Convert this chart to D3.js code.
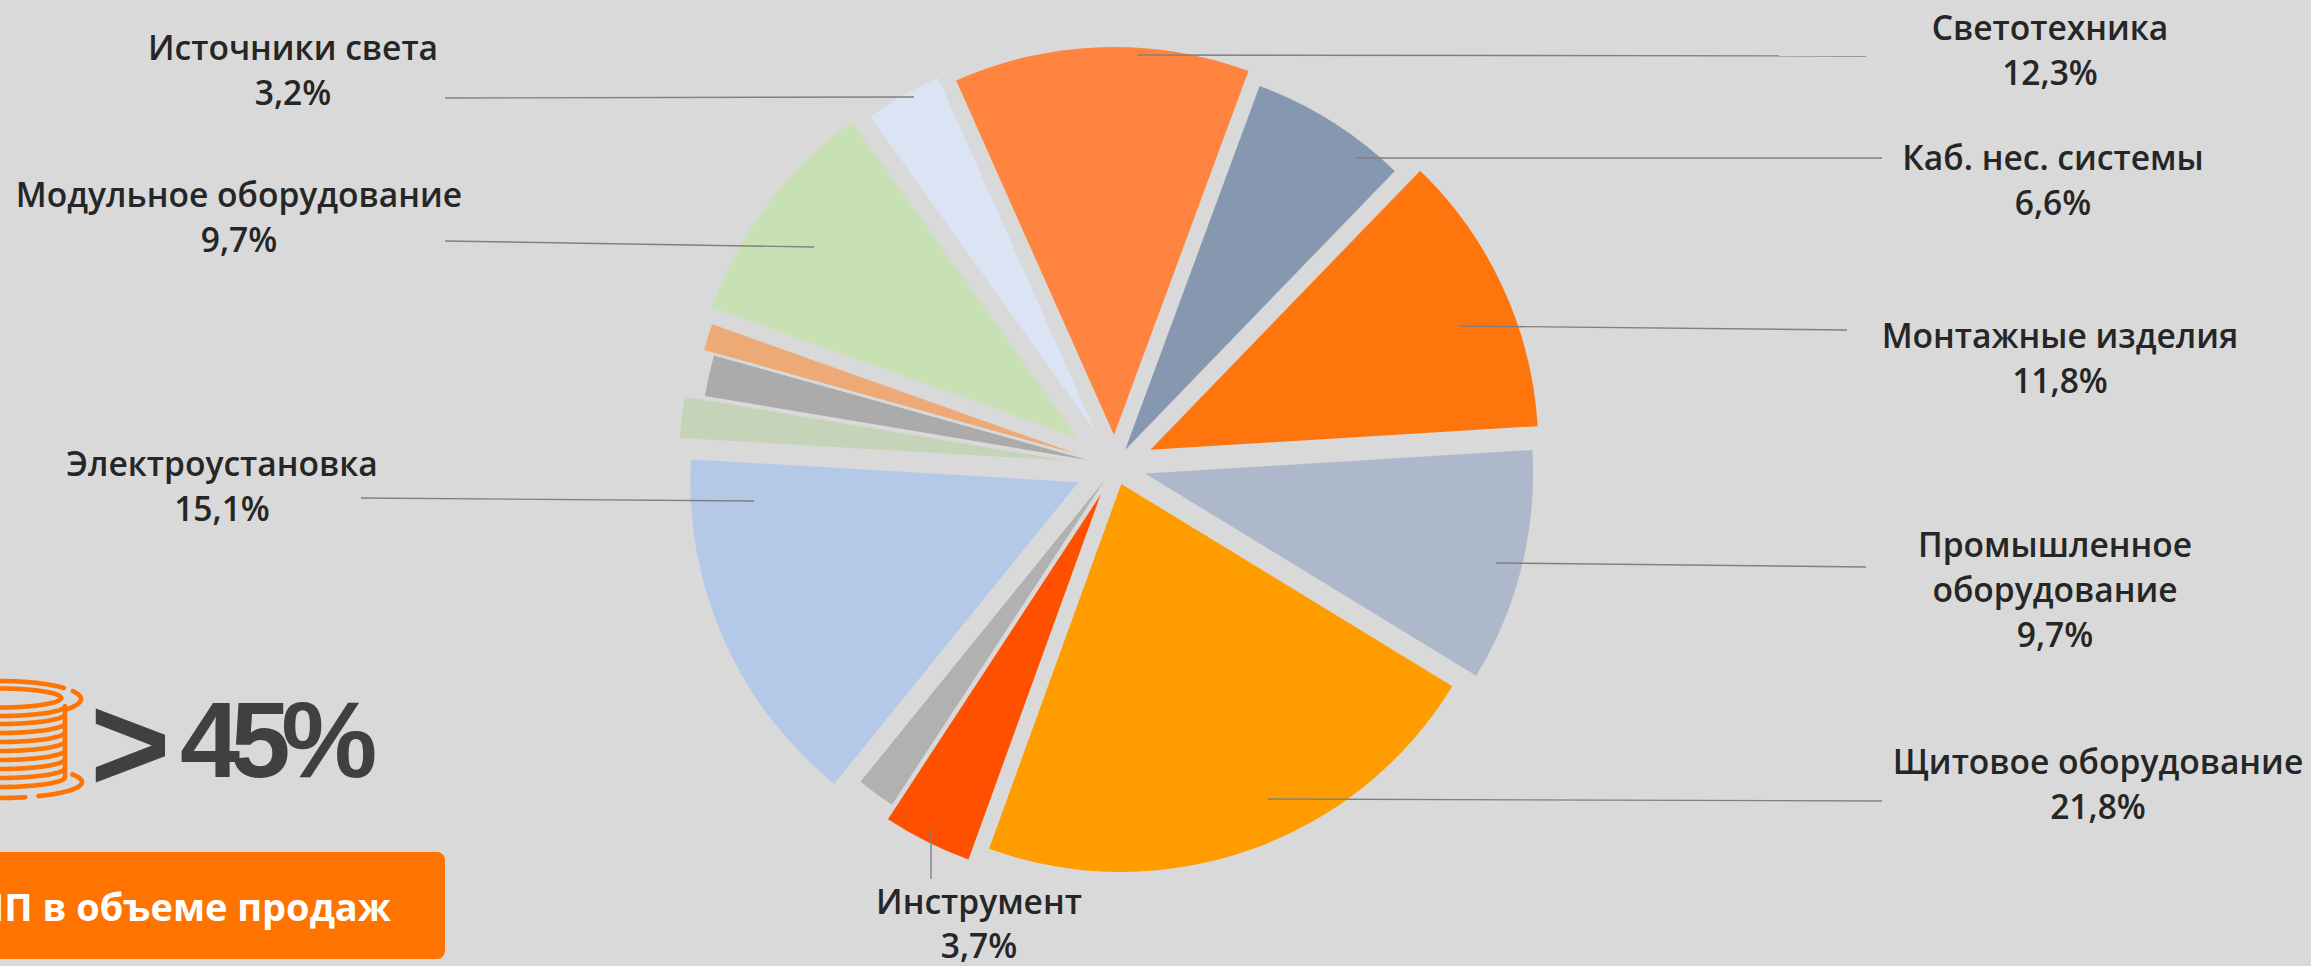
<!DOCTYPE html>
<html>
<head>
<meta charset="utf-8">
<script src="https://cdnjs.cloudflare.com/ajax/libs/d3/7.9.0/d3.min.js"></script>
<style>
	html, body { margin: 0; padding: 0; background: #d9d9d9; overflow: hidden; }
	.lbl { font-family: "Open Sans", sans-serif; font-weight: 600; font-size: 33.6px; fill: #262626; text-anchor: middle; }
	.leader { stroke: #808080; stroke-width: 1.4px; fill: none; }
	.big { font-family: "Liberation Sans", sans-serif; font-weight: 700; fill: #404040; }
	.spool { stroke: #ff7300; stroke-width: 4.6px; fill: none; stroke-linecap: round; }
</style>
</head>
<body>
<svg id="chart" width="2311" height="966"></svg>
<script>
// clockwise from the first slice, Светотехника. the four thin slices have no label in the picture
var categories = ['Светотехника', 'Каб. нес. системы', 'Монтажные изделия', 'Промышленное оборудование', 'Щитовое оборудование', 'Инструмент', 'Прочее 1', 'Электроустановка', 'Прочее 2', 'Прочее 3', 'Прочее 4', 'Модульное оборудование', 'Источники света'];
var values = [12.3, 6.6, 11.8, 9.7, 21.8, 3.7, 1.6, 15.1, 1.7, 1.7, 1.1, 9.7, 3.2];
var colors = ['#ff843f', '#8598b0', '#ff750d', '#adb9cb', '#ff9c00', '#ff5000', '#b1b1b1', '#b4c8e7', '#c5d4b8', '#ababab', '#edaa76', '#c7e1b5', '#dbe4f4'];
var explode = [31, 19, 39, 31, 19, 32, 17.5, 40, 48, 28, 39, 47, 39];

var labelRows = [
	['Светотехника', '12,3%'],
	['Каб. нес. системы', '6,6%'],
	['Монтажные изделия', '11,8%'],
	['Промышленное', 'оборудование', '9,7%'],
	['Щитовое оборудование', '21,8%'],
	['Инструмент', '3,7%'],
	['Электроустановка', '15,1%'],
	['Модульное оборудование', '9,7%'],
	['Источники света', '3,2%']
];
var labelX = [2050, 2053, 2060, 2055, 2098, 979, 222, 239, 293];
var labelY = [40, 170, 348, 557, 774, 914, 476, 207, 60];
var labelGap = [45, 45, 45, 45, 45, 44, 45, 45, 45];
var leaders = [
	[1137, 55, 1866, 56], [1355, 158, 1882, 158], [1460, 326, 1847, 330],
	[1496, 563, 1866, 567], [1268, 799, 1882, 801], [931, 830, 931, 879],
	[754, 501, 361, 498], [814, 247, 445, 241], [914, 97, 445, 98]
];
var windings = [716, 724, 733, 742, 751, 760, 769, 778, 787];

var svg = d3.select('#chart');
var cx = 1115, cy = 466, R = 388;
var start = -24 * Math.PI / 180;

var pie = d3.pie().sort(null).startAngle(start).endAngle(start + 2 * Math.PI);
var arc = d3.arc().innerRadius(0).outerRadius(R);
var slices = pie(values);

svg.append('g').selectAll('path')
	.data(slices)
	.enter().append('path')
		.attr('d', arc)
		.attr('fill', function(d, i) { return colors[i]; })
		.attr('transform', function(d, i) {
			var mid = (d.startAngle + d.endAngle) / 2;
			var x = cx + Math.sin(mid) * explode[i];
			var y = cy - Math.cos(mid) * explode[i];
			return 'translate(' + x + ',' + y + ')';
		});

svg.append('g').selectAll('line')
	.data(leaders)
	.enter().append('line')
		.attr('class', 'leader')
		.attr('x1', function(d) { return d[0]; })
		.attr('y1', function(d) { return d[1]; })
		.attr('x2', function(d) { return d[2]; })
		.attr('y2', function(d) { return d[3]; });

labelRows.forEach(function(rows, i) {
	var t = svg.append('text').attr('class', 'lbl');
	rows.forEach(function(r, k) {
		t.append('tspan')
			.attr('x', labelX[i])
			.attr('y', labelY[i] + k * labelGap[i])
			.text(r);
	});
});

// spool icon, cut by the left edge like in the picture
function ellipseArc(ex, ey, rx, ry, a0, a1) {
	var line = d3.line()
		.x(function(t) { return ex + rx * Math.cos(t * Math.PI / 180); })
		.y(function(t) { return ey + ry * Math.sin(t * Math.PI / 180); });
	return line(d3.range(a0, a1 + 1, 2));
}
var spool = svg.append('g').attr('class', 'spool');
spool.append('path').attr('d', ellipseArc(0, 699, 81, 18, -100, -37));
spool.append('path').attr('d', ellipseArc(0, 699, 81, 18, -26, 35));
spool.append('path').attr('d', ellipseArc(0, 698, 61, 9.5, -180, 180));
spool.append('path').attr('d', ellipseArc(0, 782, 82, 16, -28, 62));
spool.append('path').attr('d', ellipseArc(0, 782, 82, 16, 72, 100));
spool.selectAll('.w')
	.data(windings)
	.enter().append('path')
		.attr('class', 'w')
		.attr('d', function(d) { return ellipseArc(0, d - 10, 65, 10, 0, 100); });
spool.append('line').attr('x1', 65).attr('y1', 708).attr('x2', 65).attr('y2', 777);

// badge bottom left
svg.append('rect').attr('x', -20).attr('y', 852).attr('width', 465).attr('height', 107).attr('rx', 8).attr('fill', '#ff7300');
svg.append('text').attr('x', 391).attr('y', 921).attr('text-anchor', 'end')
	.style('font-family', '"Open Sans", sans-serif').style('font-weight', 700).style('font-size', '38px').attr('fill', '#fff')
	.text('ИП в объеме продаж');

svg.append('text').attr('class', 'big').attr('x', 90).attr('y', 791)
	.style('font-size', '138px')
	.text('>');
svg.append('text').attr('class', 'big').attr('x', 180).attr('y', 777)
	.style('font-size', '108px').style('letter-spacing', '-9.5px')
	.text('45%');
</script>
</body>
</html>
